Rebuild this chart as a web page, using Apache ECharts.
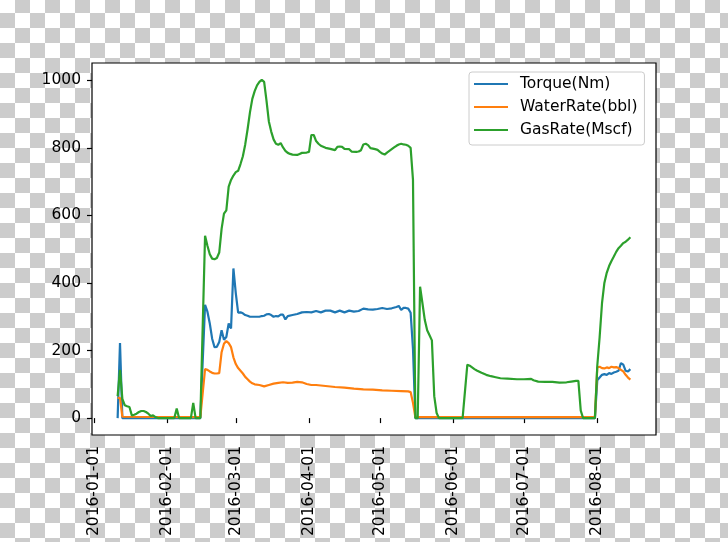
<!DOCTYPE html>
<html>
<head>
<meta charset="utf-8">
<script src="https://cdn.jsdelivr.net/npm/echarts@6/dist/echarts.min.js"></script>
<style>
html,body{margin:0;padding:0;}
body{width:728px;height:542px;overflow:hidden;background-color:#fff;
background-image:conic-gradient(#cccccc 0 25%, #ffffff 0 50%, #cccccc 0 75%, #ffffff 0);
background-size:30px 30px;background-position:0 -2px;}
#chart{width:728px;height:542px;}
</style>
</head>
<body>
<div id="chart"></div>
<script>
// ---------- data ----------
const seriesNames = ['Torque(Nm)', 'WaterRate(bbl)', 'GasRate(Mscf)'];
const xTickLabels = ['2016-01-01','2016-02-01','2016-03-01','2016-04-01','2016-05-01','2016-06-01','2016-07-01','2016-08-01'];
const yTickValues = [0, 200, 400, 600, 800, 1000];

const torqueDates = ['2016-01-11','2016-01-12','2016-01-13','2016-02-15','2016-02-17','2016-02-18','2016-02-19','2016-02-20','2016-02-21','2016-02-22','2016-02-23','2016-02-24','2016-02-25','2016-02-26','2016-02-27','2016-02-28','2016-02-29','2016-03-01','2016-03-02','2016-03-03','2016-03-04','2016-03-05','2016-03-06','2016-03-07','2016-03-09','2016-03-11','2016-03-12','2016-03-13','2016-03-14','2016-03-15','2016-03-16','2016-03-17','2016-03-18','2016-03-19','2016-03-20','2016-03-21','2016-03-22','2016-03-23','2016-03-25','2016-03-27','2016-03-29','2016-03-31','2016-04-02','2016-04-04','2016-04-06','2016-04-08','2016-04-10','2016-04-12','2016-04-14','2016-04-16','2016-04-18','2016-04-20','2016-04-22','2016-04-24','2016-04-26','2016-04-28','2016-04-30','2016-05-02','2016-05-04','2016-05-06','2016-05-08','2016-05-09','2016-05-10','2016-05-11','2016-05-12','2016-05-13','2016-05-14','2016-05-15','2016-05-16','2016-07-31','2016-08-01','2016-08-02','2016-08-03','2016-08-04','2016-08-05','2016-08-06','2016-08-07','2016-08-08','2016-08-09','2016-08-10','2016-08-11','2016-08-12','2016-08-13','2016-08-14','2016-08-15'];
const torqueVals = [0,222,0,0,335,315,280,235,210,211,225,260,232,240,280,265,443,370,312,313,310,305,303,300,300,300,302,303,307,308,305,300,302,301,306,306,292,302,305,308,313,314,313,317,313,318,318,313,318,313,318,315,317,324,322,321,323,326,323,325,329,332,320,326,326,324,312,205,0,0,112,120,128,130,128,133,131,135,137,140,163,158,140,138,145];

const waterDates = ['2016-01-11','2016-01-12','2016-01-13','2016-02-15','2016-02-17','2016-02-18','2016-02-19','2016-02-20','2016-02-21','2016-02-22','2016-02-23','2016-02-24','2016-02-25','2016-02-26','2016-02-27','2016-02-28','2016-02-29','2016-03-01','2016-03-02','2016-03-03','2016-03-04','2016-03-05','2016-03-06','2016-03-07','2016-03-08','2016-03-09','2016-03-11','2016-03-13','2016-03-15','2016-03-17','2016-03-19','2016-03-21','2016-03-23','2016-03-25','2016-03-27','2016-03-29','2016-03-31','2016-04-02','2016-04-04','2016-04-08','2016-04-12','2016-04-16','2016-04-20','2016-04-24','2016-04-28','2016-05-02','2016-05-06','2016-05-10','2016-05-13','2016-05-14','2016-05-15','2016-05-16','2016-07-31','2016-08-01','2016-08-02','2016-08-03','2016-08-04','2016-08-05','2016-08-06','2016-08-07','2016-08-08','2016-08-09','2016-08-10','2016-08-11','2016-08-12','2016-08-13','2016-08-14','2016-08-15'];
const waterVals = [60,60,4,3,145,143,138,134,132,132,133,195,220,228,222,210,180,160,148,140,132,122,115,108,103,100,98,94,98,102,104,106,104,105,107,106,101,98,98,95,92,90,87,85,84,82,81,80,79,77,45,3,3,150,152,148,147,150,148,152,150,151,148,143,138,128,120,114];

const gasDates = ['2016-01-11','2016-01-12','2016-01-13','2016-01-14','2016-01-15','2016-01-16','2016-01-17','2016-01-18','2016-01-19','2016-01-20','2016-01-21','2016-01-22','2016-01-23','2016-01-24','2016-01-25','2016-01-26','2016-01-27','2016-01-28','2016-02-04','2016-02-05','2016-02-06','2016-02-11','2016-02-12','2016-02-13','2016-02-15','2016-02-17','2016-02-18','2016-02-19','2016-02-20','2016-02-21','2016-02-22','2016-02-23','2016-02-24','2016-02-25','2016-02-26','2016-02-27','2016-02-28','2016-02-29','2016-03-01','2016-03-02','2016-03-03','2016-03-04','2016-03-05','2016-03-06','2016-03-07','2016-03-08','2016-03-09','2016-03-10','2016-03-11','2016-03-12','2016-03-13','2016-03-14','2016-03-15','2016-03-16','2016-03-17','2016-03-18','2016-03-19','2016-03-20','2016-03-21','2016-03-22','2016-03-23','2016-03-24','2016-03-25','2016-03-27','2016-03-28','2016-03-29','2016-03-31','2016-04-01','2016-04-02','2016-04-03','2016-04-04','2016-04-05','2016-04-06','2016-04-08','2016-04-10','2016-04-12','2016-04-13','2016-04-14','2016-04-15','2016-04-16','2016-04-18','2016-04-19','2016-04-21','2016-04-22','2016-04-23','2016-04-24','2016-04-25','2016-04-26','2016-04-27','2016-04-29','2016-04-30','2016-05-01','2016-05-02','2016-05-03','2016-05-04','2016-05-05','2016-05-06','2016-05-07','2016-05-08','2016-05-09','2016-05-10','2016-05-11','2016-05-12','2016-05-13','2016-05-14','2016-05-15','2016-05-16','2016-05-17','2016-05-18','2016-05-19','2016-05-20','2016-05-21','2016-05-22','2016-05-23','2016-05-24','2016-05-25','2016-05-26','2016-06-05','2016-06-07','2016-06-08','2016-06-09','2016-06-10','2016-06-11','2016-06-13','2016-06-15','2016-06-17','2016-06-19','2016-06-21','2016-06-24','2016-06-28','2016-07-01','2016-07-04','2016-07-05','2016-07-07','2016-07-10','2016-07-13','2016-07-16','2016-07-19','2016-07-21','2016-07-23','2016-07-24','2016-07-25','2016-07-26','2016-07-31','2016-08-01','2016-08-02','2016-08-03','2016-08-04','2016-08-05','2016-08-06','2016-08-07','2016-08-08','2016-08-09','2016-08-10','2016-08-11','2016-08-12','2016-08-13','2016-08-14','2016-08-15'];
const gasVals = [65,143,57,38,35,33,8,10,13,18,21,21,18,13,6,8,3,0,0,28,0,0,45,0,0,540,510,485,472,470,474,490,560,605,615,685,705,718,728,732,752,775,810,855,905,945,968,985,995,1001,995,940,878,848,825,812,809,814,801,791,785,782,780,779,782,785,786,788,838,838,820,812,806,800,797,793,803,804,803,797,796,789,788,789,793,810,812,808,799,796,794,788,783,780,786,791,796,801,806,810,812,810,809,806,800,705,0,0,389,340,290,260,245,230,65,15,0,0,158,155,150,145,141,134,128,124,121,118,117,115,115,116,112,108,107,107,105,106,108,110,110,22,0,0,155,240,340,400,430,450,465,478,492,503,510,518,522,528,535];

const seriesColors = ['#1f77b4', '#ff7f0e', '#2ca02c'];

// ---------- helpers ----------
function ts(s) { const p = s.split('-').map(Number); return new Date(p[0], p[1] - 1, p[2]).getTime(); }
function pairs(ds, vs) { return ds.map((d, i) => [ts(d), vs[i]]); }
function pad2(n) { return (n < 10 ? '0' : '') + n; }
function fmtDate(v) { const d = new Date(v); return d.getFullYear() + '-' + pad2(d.getMonth() + 1) + '-' + pad2(d.getDate()); }

const allT = [].concat(torqueDates, waterDates, gasDates).map(ts);
const tMin = Math.min.apply(null, allT), tMax = Math.max.apply(null, allT);
const tPad = (tMax - tMin) * 0.05;
const allV = [].concat(torqueVals, waterVals, gasVals);
const vMin = Math.min.apply(null, allV), vMax = Math.max.apply(null, allV);
const vPad = (vMax - vMin) * 0.05;
const xTicks = xTickLabels.map(ts);

const FONT = 'DejaVu Sans';
const chart = echarts.init(document.getElementById('chart'), null, { renderer: 'canvas' });
const data = [pairs(torqueDates, torqueVals), pairs(waterDates, waterVals), pairs(gasDates, gasVals)];

chart.setOption({
  backgroundColor: 'transparent',
  animation: false,
  textStyle: { fontFamily: FONT },
  grid: { left: 92, right: 72, top: 63, bottom: 107, show: true, backgroundColor: '#ffffff', borderColor: '#000000', borderWidth: 1.2 },
  xAxis: {
    type: 'value', min: tMin - tPad, max: tMax + tPad, scale: true,
    axisLine: { show: false }, splitLine: { show: false },
    axisTick: { show: true, length: 5, lineStyle: { color: '#000', width: 1.2 }, customValues: xTicks },
    axisLabel: { customValues: xTicks, rotate: 90, margin: 11, color: '#000', fontSize: 15.5, fontFamily: FONT, formatter: fmtDate, hideOverlap: false }
  },
  yAxis: {
    type: 'value', min: vMin - vPad, max: vMax + vPad,
    axisLine: { show: false }, splitLine: { show: false },
    axisTick: { show: true, length: 5, lineStyle: { color: '#000', width: 1.2 }, customValues: yTickValues },
    axisLabel: { customValues: yTickValues, margin: 11, color: '#000', fontSize: 15.5, fontFamily: FONT, hideOverlap: false, formatter: v => String(v) }
  },
  legend: {
    show: true, orient: 'vertical', left: 469, top: 72,
    data: seriesNames, icon: 'rect', itemWidth: 34, itemHeight: 2.2, itemGap: 7,
    padding: [4, 7, 7, 5],
    backgroundColor: 'rgba(255,255,255,0.8)', borderColor: '#cccccc', borderWidth: 1, borderRadius: 3,
    textStyle: { color: '#000', fontSize: 15.5, fontFamily: FONT, lineHeight: 16, padding: [0, 0, 0, 7] },
    selectedMode: false
  },
  series: seriesNames.map((n, i) => ({
    name: n, type: 'line', data: data[i], color: seriesColors[i],
    showSymbol: false, symbol: 'none', sampling: null,
    lineStyle: { width: 2.2, color: seriesColors[i] },
    emphasis: { disabled: true }
  }))
});
</script>
</body>
</html>
